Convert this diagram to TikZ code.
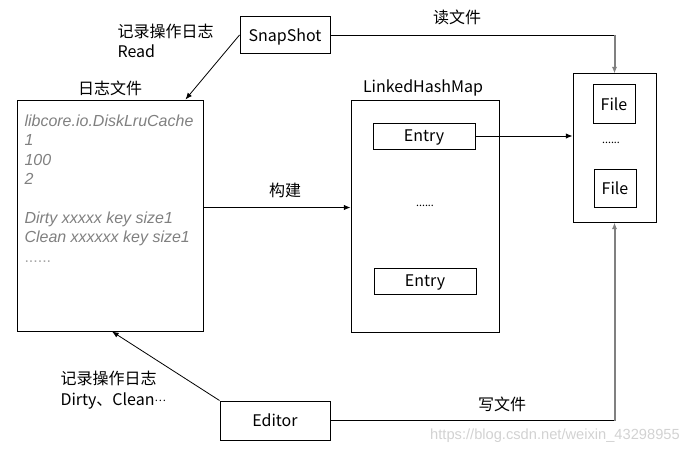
\documentclass[tikz,border=0pt]{standalone}
\usepackage{fontspec}
\setmainfont{Noto Sans CJK SC}
\newfontfamily\logfont{Liberation Sans}
\usetikzlibrary{arrows.meta}

\def\px{0.75pt}

\begin{document}
\begin{tikzpicture}[x=0.75pt, y=-0.75pt, line width=0.75pt,
      font=\fontsize{12}{15.5}\selectfont,
      box/.style={draw, inner sep=0pt, text depth=0pt},
      label/.style={inner sep=0pt},
      link/.style={-{Latex[length=5pt, width=4pt]}, line width=0.6pt},
      fileline/.style={draw=gray, line width=1.5pt}]

      \useasboundingbox (0,0) rectangle (699,453);

      % boxes
      \node[box, minimum width=90*\px, minimum height=37*\px] (snapshot) at (285,35) {SnapShot};
      \node[box, minimum width=186*\px, minimum height=231*\px] (journal) at (110,215.5) {};
      \node[box, minimum width=148*\px, minimum height=232*\px] (lhm) at (425,216) {};
      \node[box, minimum width=83*\px, minimum height=148*\px] (files) at (614.5,148) {};
      \node[box, minimum width=110*\px, minimum height=39*\px] (editor) at (275,420.5) {Editor};

      \foreach \al/\x/\y/\w/\h/\lab in {%
        entryA/424/136/102/26/Entry,%
        entryB/425/281/102/26/Entry,%
        fileA/614/104/42/38/File,%
        fileB/615/188/42/38/File%
      }{ \node[box, minimum width=\w*\px, minimum height=\h*\px] (\al) at (\x,\y) {\lab}; }

      \node[label] (mapdots) at (425,206) {\footnotesize......};
      \node[label] (filedots) at (611,143) {\footnotesize......};

      % journal contents
      \node[label, anchor=north west, text=gray, align=left,
        font=\logfont\itshape\fontsize{12}{14.6}\selectfont] (logtext) at (24,114)
        {libcore.io.DiskLruCache\\1\\100\\2\\ \\Dirty xxxxx key size1\\Clean xxxxxx key size1\\{\upshape\color{gray!70}......}};

      % labels
      \node[label] (jlabel) at (110,88) {日志文件};
      \node[label] (lhmlabel) at (423,88) {LinkedHashMap};
      \node[label, anchor=west, align=left] (readlog) at (117,41) {记录操作日志\\Read};
      \node[label, anchor=west, align=left] (writelog) at (60,390) {记录操作日志\\Dirty、Clean\raisebox{0.25em}{\footnotesize…}};
      \node[label] (readlabel) at (457,17) {读文件};
      \node[label] (buildlabel) at (285,190) {构建};
      \node[label] (writelabel) at (502,404) {写文件};
      \node[label, text=gray!35, font=\logfont\fontsize{11}{13}\selectfont] (mark) at (555,436)
        {https://blog.csdn.net/weixin\_43298955};

      % connectors
      \coordinate (readturn) at (snapshot.east -| files.north);
      \coordinate (writeturn) at (editor.east -| files.south);

      \draw[link] (snapshot.west) -- ([xshift=-18*\px]journal.north east);
      \draw[link] ([yshift=8*\px]journal.east) -- ([yshift=8*\px]journal.east -| lhm.west);
      \draw[link] (entryA.east) -- (entryA.east -| files.west);
      \draw[link] (editor.north west) -- ([xshift=2*\px]journal.south);

      \draw[line width=0.6pt] (snapshot.east) -- (readturn);
      \draw[fileline, link, line width=1.5pt] (readturn) -- (files.north);
      \draw[line width=0.6pt] (editor.east) -- (writeturn);
      \draw[fileline, link, line width=1.5pt] (writeturn) -- (files.south);
    \end{tikzpicture}
\end{document}
